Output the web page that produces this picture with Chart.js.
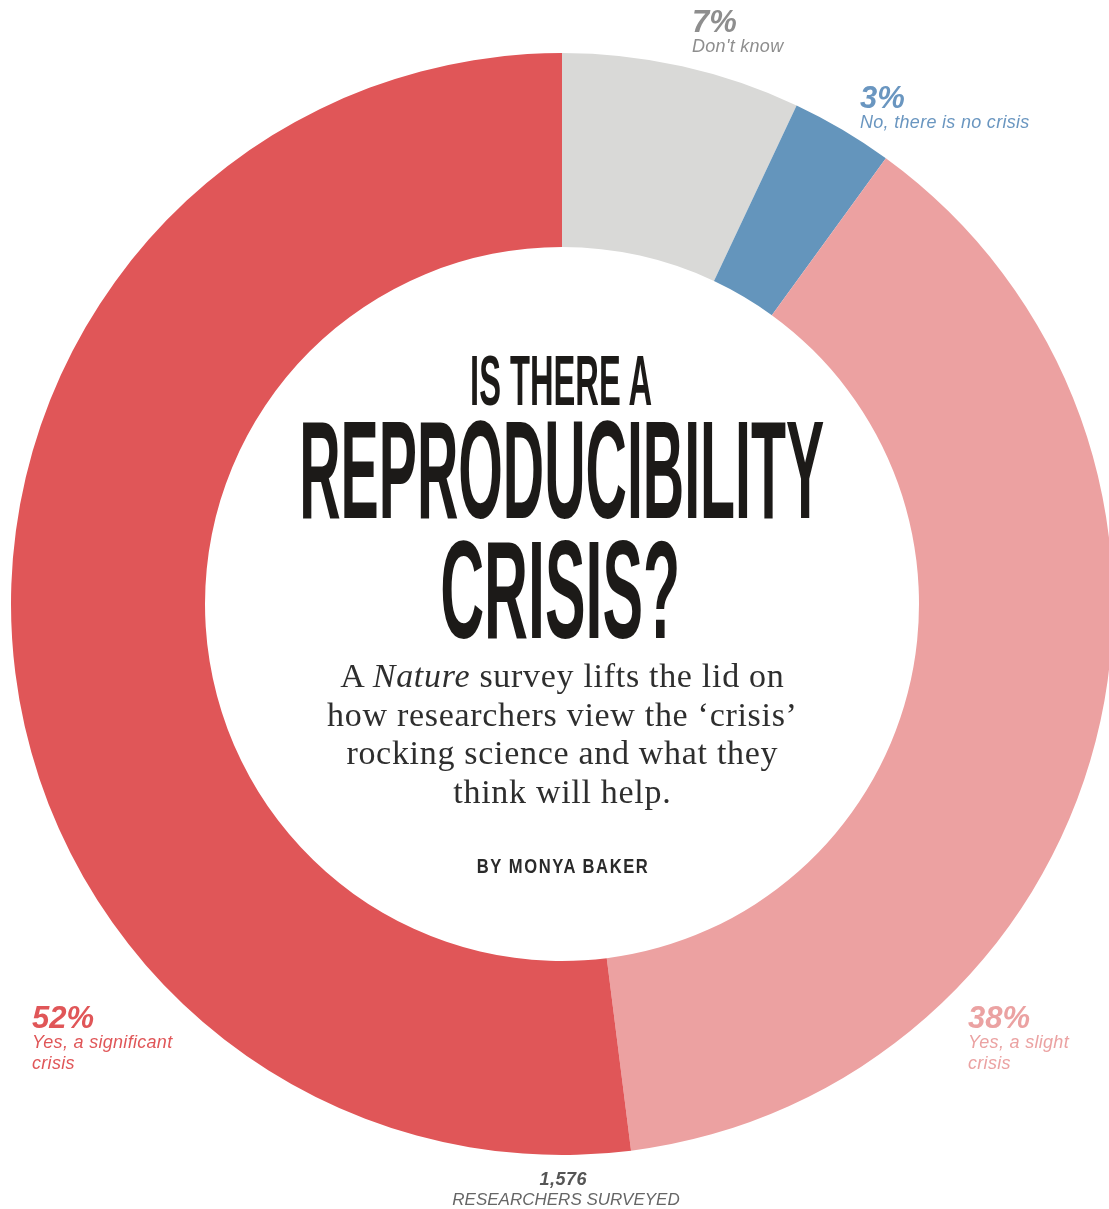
<!DOCTYPE html>
<html>
<head>
<meta charset="utf-8">
<script src="https://cdn.jsdelivr.net/npm/chart.js@4.4.1/dist/chart.umd.min.js"></script>
<style>
  html, body { margin:0; padding:0; width:1109px; height:1209px; overflow:hidden; background:#fff; }
  #wrap { position:absolute; left:0; top:0; width:1124px; height:1209px; }
  .lbl { position:absolute; white-space:nowrap; line-height:1; display:inline-block; }
  .bl { display:inline-block; width:0; height:0; vertical-align:baseline; }
</style>
</head>
<body>
<div id="wrap"><canvas id="c" width="1124" height="1209"></canvas></div>
<script>
// ---- data ----
const categories = ["Don't know", "No, there is no crisis", "Yes, a slight crisis", "Yes, a significant crisis"];
const values = [7, 3, 38, 52];
const labelLines = [["Don't know"], ["No, there is no crisis"], ["Yes, a slight", "crisis"], ["Yes, a significant", "crisis"]];
const sliceColors = ["#d9d9d7", "#6495bc", "#eca1a1", "#e05658"];
const labelColors = ["#8e8e8e", "#6a96c0", "#eba2a2", "#e05658"];
const respondents = "1,576";
const respondentsLabel = "RESEARCHERS SURVEYED";
const titleLines = ["IS THERE A", "REPRODUCIBILITY", "CRISIS?"];
const standfirst = [
  [["A ", false], ["Nature", true], [" survey lifts the lid on", false]],
  [["how researchers view the \u2018crisis\u2019", false]],
  [["rocking science and what they", false]],
  [["think will help.", false]]
];
const byline = "BY MONYA BAKER";

// ---- chart ----
new Chart(document.getElementById('c'), {
  type: 'doughnut',
  data: {
    labels: categories,
    datasets: [{
      data: values,
      backgroundColor: sliceColors,
      borderWidth: 0,
      hoverOffset: 0,
      offset: 0
    }]
  },
  options: {
    responsive: false,
    devicePixelRatio: 1,
    animation: false,
    cutout: 357,
    rotation: 0,
    layout: { padding: { left: 11, right: 11, top: 53, bottom: 54 } },
    plugins: { legend: { display: false }, tooltip: { enabled: false } },
    events: []
  }
});

// ---- text helpers ----
function place(segs, o) {
  const d = document.createElement('div');
  d.className = 'lbl';
  d.style.font = o.font;
  d.style.color = o.color;
  if (o.ls) d.style.letterSpacing = o.ls + 'px';
  if (o.stroke) { d.style.webkitTextStroke = o.stroke + 'px ' + o.color; }
  segs.forEach(s => {
    const sp = document.createElement('span');
    sp.textContent = s[0];
    if (s[1]) sp.style.fontStyle = 'italic';
    d.appendChild(sp);
  });
  const m = document.createElement('i'); m.className = 'bl'; d.appendChild(m);
  document.body.appendChild(d);
  const bl = m.offsetTop;
  const w = d.getBoundingClientRect().width - (o.ls || 0);
  const sx = o.width ? o.width / w : 1;
  let left = o.x;
  if (o.align === 'center') left = o.x - w / 2;
  d.style.left = left + 'px';
  d.style.top = (o.y - bl) + 'px';
  d.style.transformOrigin = (o.align === 'center' ? (w / 2) + 'px' : '0px') + ' 0px';
  d.style.transform = 'scaleX(' + sx + ')';
}

function drawTexts() {
  const pctFont = 'italic bold 31px "Liberation Sans", Arial, sans-serif';
  const subFont = 'italic 18px "Liberation Sans", Arial, sans-serif';
  const pos = [ {x:692, y:32}, {x:860, y:108}, {x:968, y:1028}, {x:32, y:1028} ];
  values.forEach((v, i) => {
    place([[v + '%', false]], { x: pos[i].x, y: pos[i].y, font: pctFont, color: labelColors[i], ls: 0 });
    labelLines[i].forEach((ln, j) => {
      place([[ln, false]], { x: pos[i].x, y: pos[i].y + 20 + j * 21, font: subFont, color: labelColors[i], ls: 0.3 });
    });
  });

  // Title
  const tFont = (s) => 'bold ' + s + 'px "Liberation Sans Narrow", "Liberation Sans", Arial, sans-serif';
  place([[titleLines[0], false]], { x: 561, y: 405, font: tFont(70), color: '#1c1a18', align: 'center', width: 182 });
  place([[titleLines[1], false]], { x: 562, y: 518, font: tFont(140), color: '#1c1a18', align: 'center', width: 525 });
  place([[titleLines[2], false]], { x: 560, y: 638, font: tFont(140), color: '#1c1a18', align: 'center', width: 240 });

  // Standfirst
  const sFont = '34px "Liberation Serif", "Times New Roman", serif';
  standfirst.forEach((line, k) => {
    place(line, { x: 562, y: 687 + k * 38.5, font: sFont, color: '#2e2e2e', align: 'center', ls: 0.7 });
  });

  // Byline
  place([[byline, false]], { x: 562, y: 873, font: 'bold 21px "Liberation Sans Narrow", "Liberation Sans", sans-serif', color: '#2a2a2a', align: 'center', width: 171, ls: 2 });

  // Bottom
  place([[respondents, false]], { x: 563, y: 1185, font: 'italic bold 18px "Liberation Sans", Arial, sans-serif', color: '#555555', align: 'center', ls: 0.5 });
  place([[respondentsLabel, false]], { x: 566, y: 1205, font: 'italic 17px "Liberation Sans", Arial, sans-serif', color: '#666666', align: 'center', ls: 0 });
}
if (document.fonts && document.fonts.ready) { document.fonts.ready.then(drawTexts); } else { drawTexts(); }
</script>
</body>
</html>
